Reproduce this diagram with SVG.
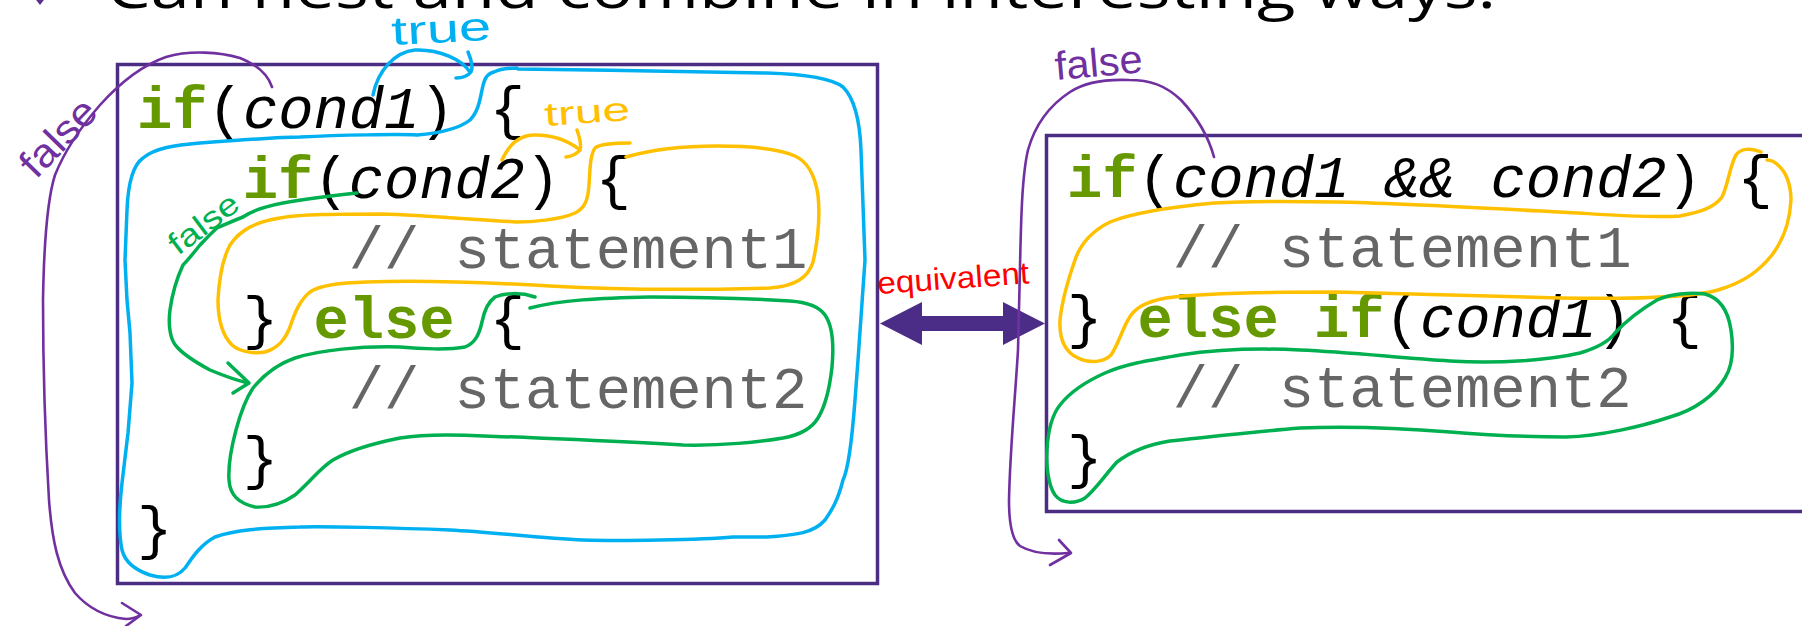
<svg xmlns="http://www.w3.org/2000/svg" width="1802" height="626" viewBox="0 0 1802 626">
<style>
  .box { fill: none; stroke: #4B2E83; stroke-width: 3.5; }
  .code { font-family: "Liberation Mono", "Courier New", monospace; font-size: 58.8px; fill: #000; }
  .kw { font-weight: bold; fill: #669900; }
  .it { font-style: italic; }
  .cm { fill: #666666; }
  .pen { fill: none; stroke-linecap: round; stroke-linejoin: round; }
  .cyan { stroke: #00B0F0; stroke-width: 3.5; }
  .orange { stroke: #FFC000; stroke-width: 3.5; }
  .green { stroke: #00B050; stroke-width: 3.5; }
  .purple { stroke: #7030A0; stroke-width: 2.6; }
  .hand { font-family: "Liberation Sans Narrow", "Liberation Sans", Arial, sans-serif; }
</style>
<rect width="1802" height="626" fill="#ffffff"/>

<g id="title">
  <polygon points="40,-14 47,-4 40,5 33,-4" fill="#5A2D8F"/>
  <text x="106" y="8" font-family="'Open Sans', 'Noto Sans', sans-serif" font-size="56" fill="#000" textLength="1390" lengthAdjust="spacingAndGlyphs">Can nest and combine in interesting ways.</text>
</g>

<g id="left-box">
  <rect class="box" x="117.5" y="64.5" width="760" height="519"/>
  <text class="code" x="137" y="128"><tspan class="kw">if</tspan>(<tspan class="it">cond1</tspan>) {</text>
  <text class="code" x="242.8" y="198"><tspan class="kw">if</tspan>(<tspan class="it">cond2</tspan>) {</text>
  <text class="code cm" x="348.7" y="268">// statement1</text>
  <text class="code" x="242.8" y="338">} <tspan class="kw">else</tspan> {</text>
  <text class="code cm" x="348.7" y="408">// statement2</text>
  <text class="code" x="242.8" y="478">}</text>
  <text class="code" x="137" y="548">}</text>
</g>

<g id="right-box">
  <rect class="box" x="1046.5" y="135.5" width="770" height="376"/>
  <text class="code" x="1067" y="197"><tspan class="kw">if</tspan>(<tspan class="it">cond1 &amp;&amp; cond2</tspan>) {</text>
  <text class="code cm" x="1172.8" y="267">// statement1</text>
  <text class="code" x="1067" y="337">} <tspan class="kw">else if</tspan>(<tspan class="it">cond1</tspan>) {</text>
  <text class="code cm" x="1172.8" y="407">// statement2</text>
  <text class="code" x="1067" y="477">}</text>
</g>

<g id="equivalence">
  <polygon points="880,323.5 922,302 922,316 1003,316 1003,302 1045,323.5 1003,345 1003,331 922,331 922,345" fill="#4B2C87"/>
  <text class="hand" x="878" y="294" font-size="31" fill="#FF0000" textLength="152" lengthAdjust="spacingAndGlyphs" transform="rotate(-4 878 294)">equivalent</text>
</g>

<g id="connectors">
  <!-- cyan: outer if -->
  <path class="pen cyan" d="M373,95 C378,70 395,52 415,50 C440,49 462,60 470,72"/>
  <path class="pen cyan" d="M468,52 Q474,66 471,72 Q466,78 456,78"/>
  <path class="pen cyan" d="M518,69 C600,70 700,72 767,73 C800,74 830,77 843,87 C856,100 860,125 861,150 L865,260 L858,360 L855,400 C852,440 848,470 843,480 C838,500 832,510 825,520 C812,535 790,535 767,537 L733,537 C700,540 620,541 583,540 C540,538 490,532 450,530 C400,528 320,526 300,527 C260,528 235,530 215,537 C200,545 192,558 185,568 C175,580 160,578 150,575 C135,570 125,562 122,550 C118,530 120,500 122,483 L128,433 L132,383 L130,333 L127,300 L125,260 L127,210 C128,185 133,165 143,158 C155,148 175,145 200,143 C240,140 280,137 300,137 C340,135 400,134 417,135 C440,133 460,128 470,120 C478,112 480,100 482,90 C484,80 486,74 494,72 C500,69 510,68 517,68"/>
  <text class="hand" x="392" y="45" font-size="40" fill="#00B0F0" textLength="100" lengthAdjust="spacingAndGlyphs" transform="rotate(-3 392 45)">true</text>

  <!-- orange: inner if (left) -->
  <path class="pen orange" d="M502,160 C510,142 522,135 535,135 C555,135 570,142 580,150"/>
  <path class="pen orange" d="M577,130 Q582,144 580,150 Q575,156 566,157"/>
  <path class="pen orange" d="M630,143 C615,143 600,144 595,148 C590,155 590,170 589,185 C588,200 585,208 575,213 C560,220 530,222 517,222 C480,220 420,215 383,214 C340,214 300,214 280,218 C255,222 240,230 230,245 C222,260 219,280 218,300 C218,320 222,335 232,345 C240,352 255,354 265,352 C278,348 285,340 290,327 C295,312 300,300 310,292 C320,285 340,283 367,282 C420,280 480,282 550,286 C620,290 700,290 770,288 C795,286 808,278 813,262 C818,240 820,215 818,195 C815,175 808,162 795,156 C780,149 750,146 717,146 C680,146 650,150 626,157"/>
  <text class="hand" x="545" y="126" font-size="33" fill="#FFC000" textLength="86" lengthAdjust="spacingAndGlyphs" transform="rotate(-4 545 126)">true</text>

  <!-- green: else (left) -->
  <path class="pen green" d="M357,193 C330,196 300,200 283,203 C262,207 250,212 243,217 C230,222 222,226 217,228 C208,236 203,242 200,245 C192,255 186,262 183,265 C176,280 172,295 170,310 C168,325 170,340 177,347 C185,356 197,363 210,370 C222,375 235,380 248,383"/>
  <path class="pen green" d="M228,363 L249,383 L233,393"/>
  <path class="pen green" d="M535,297 C520,292 505,293 495,297 C488,302 484,312 482,322 C479,335 475,343 465,347 C450,350 420,349 400,347 C360,346 320,350 295,358 C275,365 262,377 253,388 C245,400 240,415 236,430 C232,445 228,465 229,480 C230,495 238,503 255,507 C270,508 285,502 295,495 C310,482 320,468 333,460 C350,450 370,444 400,438 C440,432 490,437 517,437 C560,439 620,441 683,445 C720,446 760,442 783,438 C800,435 812,428 818,418 C826,405 830,385 832,367 C834,345 832,325 825,315 C818,305 805,302 790,301 C740,298 690,297 650,297 C600,298 560,300 530,308"/>
  <text class="hand" x="178" y="256" font-size="31" fill="#00B050" textLength="80" lengthAdjust="spacingAndGlyphs" transform="rotate(-37 178 256)">false</text>

  <!-- purple: false (left) -->
  <path class="pen purple" d="M272,87 C268,75 258,65 240,58 C220,52 190,50 166,57 C140,66 118,85 100,105 C80,128 65,150 55,175 C47,200 44,240 43,300 C43,380 46,450 49,500 C52,540 58,570 75,593 C88,608 105,617 126,619 C132,619 137,617 140,615"/>
  <path class="pen purple" d="M122,603 L141,615 L126,626"/>
  <text class="hand" x="36" y="180" font-size="40" fill="#7030A0" textLength="92" lengthAdjust="spacingAndGlyphs" transform="rotate(-46 36 180)">false</text>

  <!-- orange: if (right) -->
  <path class="pen orange" d="M1761,152 C1750,147 1740,149 1736,155 C1730,165 1728,185 1722,197 C1714,208 1700,212 1680,216 C1650,218 1610,215 1578,213 C1520,210 1400,203 1336,202 C1280,201 1230,202 1214,203 C1170,207 1130,214 1110,222 C1090,232 1080,245 1075,260 C1068,280 1062,300 1060,320 C1059,340 1065,352 1078,358 C1090,364 1104,362 1111,355 C1118,345 1122,330 1128,320 C1134,308 1145,302 1166,298 C1200,293 1260,292 1336,292 C1420,294 1500,297 1560,298 C1620,299 1690,298 1718,290 C1745,282 1760,270 1772,255 C1785,238 1790,218 1791,200 C1791,185 1786,172 1779,166 C1775,162 1770,160 1767,160"/>

  <!-- green: else if (right) -->
  <path class="pen green" d="M1615,333 C1625,322 1640,310 1657,300 C1670,294 1690,292 1705,294 C1720,298 1728,310 1731,330 C1734,350 1733,365 1725,378 C1715,395 1695,410 1670,417 C1640,427 1600,436 1566,437 C1530,437 1487,435 1450,432 C1400,428 1350,426 1300,428 C1250,432 1200,438 1170,441 C1145,445 1130,452 1117,462 C1105,475 1095,490 1085,498 C1075,504 1062,504 1055,495 C1048,485 1046,465 1047,450 C1048,430 1052,415 1060,405 C1070,392 1085,382 1105,373 C1125,364 1150,360 1180,355 C1220,349 1260,348 1300,350 C1350,352 1400,358 1450,361 C1500,364 1550,360 1580,353 C1600,347 1610,340 1615,333"/>

  <!-- purple: false (right) -->
  <path class="pen purple" d="M1214,157 C1208,135 1195,115 1181,100 C1165,85 1150,80 1129,80 C1105,79 1085,82 1070,92 C1050,105 1035,125 1028,150 C1022,175 1021,220 1020,267 L1018,350 C1015,400 1010,450 1009,500 C1009,525 1012,540 1020,546 C1030,552 1045,555 1068,553"/>
  <path class="pen purple" d="M1059,540 L1071,553 L1050,565"/>
  <text class="hand" x="1056" y="80" font-size="40" fill="#7030A0" textLength="88" lengthAdjust="spacingAndGlyphs" transform="rotate(-5 1056 80)">false</text>
</g>
</svg>
